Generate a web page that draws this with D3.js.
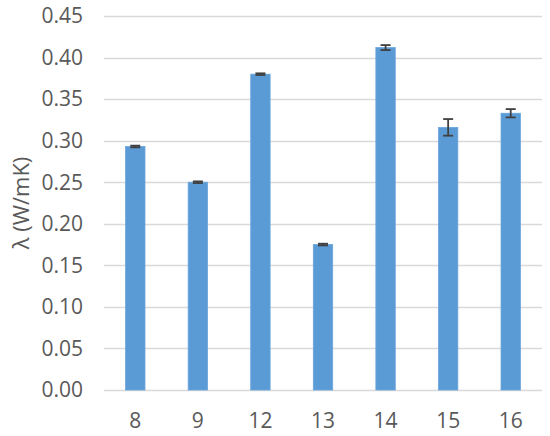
<!DOCTYPE html>
<html>
<head>
<meta charset="utf-8">
<script src="https://cdn.jsdelivr.net/npm/d3@7"></script>
<style>
  body { margin: 0; background: #fff; }
  text { font-family: "Open Sans", sans-serif; fill: #595959; }
</style>
</head>
<body>
<div id="chart"></div>
<script>
var categories = ["8", "9", "12", "13", "14", "15", "16"];
var values = [0.293, 0.250, 0.380, 0.175, 0.412, 0.316, 0.333];
var errors = [0.001, 0.001, 0.001, 0.001, 0.003, 0.010, 0.005];
var yTicks = [0, 0.05, 0.10, 0.15, 0.20, 0.25, 0.30, 0.35, 0.40, 0.45];

var width = 550, height = 436;
var margin = {top: 16, right: 8, bottom: 46, left: 104};

var svg = d3.select("#chart").append("svg")
    .attr("width", width)
    .attr("height", height);

var x = d3.scaleBand()
    .domain(categories)
    .range([margin.left, width - margin.right])
    .paddingInner(0.69)
    .paddingOuter(0.345);

var y = d3.scaleLinear()
    .domain([0, 0.45])
    .range([height - margin.bottom, margin.top]);

// gridlines
svg.append("g")
    .selectAll("line")
    .data(yTicks)
    .enter()
    .append("line")
    .attr("x1", margin.left)
    .attr("x2", width - margin.right)
    .attr("y1", function (d) { return Math.round(y(d)) + 0.5; })
    .attr("y2", function (d) { return Math.round(y(d)) + 0.5; })
    .attr("stroke", "#d9d9d9")
    .attr("stroke-width", 1.3);

// y tick labels
svg.append("g")
    .selectAll("text")
    .data(yTicks)
    .enter()
    .append("text")
    .attr("x", 83)
    .attr("y", function (d) { return y(d); })
    .attr("dy", "0.35em")
    .attr("text-anchor", "end")
    .style("font-size", "21px")
    .text(d3.format(".2f"));

// bars
svg.append("g")
    .selectAll("rect")
    .data(values)
    .enter()
    .append("rect")
    .attr("x", function (d, i) { return x(categories[i]); })
    .attr("y", function (d) { return y(d); })
    .attr("width", x.bandwidth())
    .attr("height", function (d) { return y(0) - y(d); })
    .attr("fill", "#5b9bd5")
    .attr("stroke", "#6aa5db")
    .attr("stroke-width", 0.8);

// error bars
var err = svg.append("g")
    .attr("stroke", "#404040")
    .attr("stroke-width", 1.8);

values.forEach(function (v, i) {
    var cx = x(categories[i]) + x.bandwidth() / 2;
    var capW = 5;
    err.append("line")
        .attr("x1", cx).attr("x2", cx)
        .attr("y1", y(v + errors[i])).attr("y2", y(v - errors[i]));
    [v + errors[i], v - errors[i]].forEach(function (e) {
        err.append("line")
            .attr("x1", cx - capW).attr("x2", cx + capW)
            .attr("y1", y(e)).attr("y2", y(e));
    });
});

// x labels
svg.append("g")
    .selectAll("text")
    .data(categories)
    .enter()
    .append("text")
    .attr("x", function (d) { return x(d) + x.bandwidth() / 2; })
    .attr("y", 420.5)
    .attr("dy", "0.35em")
    .attr("text-anchor", "middle")
    .style("font-size", "21px")
    .text(function (d) { return d; });

// y axis title
svg.append("text")
    .attr("transform", "translate(29,203) rotate(-90)")
    .attr("text-anchor", "middle")
    .style("font-size", "22px")
    .text("λ (W/mK)");
</script>
</body>
</html>
